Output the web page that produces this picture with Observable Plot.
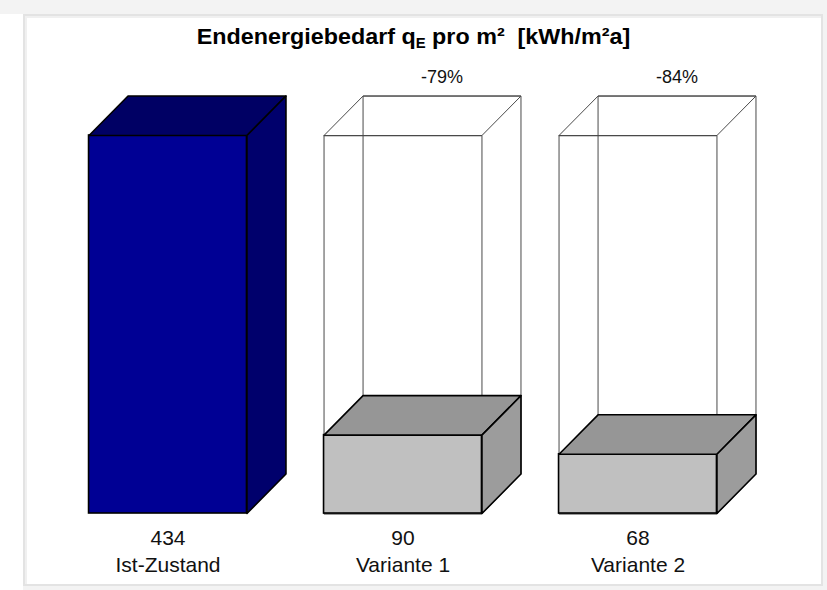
<!DOCTYPE html>
<html>
<head>
<meta charset="utf-8">
<script src="https://cdn.jsdelivr.net/npm/d3@7"></script>
<script src="https://cdn.jsdelivr.net/npm/@observablehq/plot@0.6"></script>
<style>
  body { margin: 0; background: #ffffff; font-family: "Liberation Sans", Arial, sans-serif; }
  #wrap { position: relative; width: 827px; height: 590px; overflow: hidden; background: #f3f3f3; }
  #panel { position: absolute; left: 23px; top: 14px; width: 796px; height: 568px; background: #ffffff;
           border: 2px solid #e3e3e3; box-shadow: inset 2px 2px 0 #f0f0f0; }
  #leftband { position: absolute; left: 0; top: 14px; width: 23px; height: 576px; background: #ffffff; }
  #title { position: absolute; left: 0; top: 24px; width: 827px; text-align: center; font-weight: bold;
           font-size: 22px; line-height: 26px; color: #000; transform: scaleX(1.06); transform-origin: 413px 0; }
  #title sub { font-size: 14px; vertical-align: -4px; line-height: 0; }
  #chart { position: absolute; left: 0; top: 0; }
</style>
</head>
<body>
<div id="wrap">
  <div id="leftband"></div>
  <div id="panel"></div>
  <div id="title">Endenergiebedarf q<sub>E</sub> pro m²&nbsp; [kWh/m²a]</div>
  <div id="chart"></div>
</div>
<script>
// ---- data ----
const categories = ["Ist-Zustand", "Variante 1", "Variante 2"];
const values = [434, 90, 68];
const percentLabels = ["", "-79%", "-84%"];
const valueLabels = ["434", "90", "68"];

// ---- geometry (in scale units) ----
const HW = 0.336;   // half width of front face (x units)
const DX = 0.166;   // depth offset (x units)
const DY = 45.3;    // depth offset (y units)
const refMax = values[0];

const frontCol = ["#000094", "#c0c0c0", "#c0c0c0"];
const topCol   = ["#000064", "#969696", "#969696"];
const sideCol  = ["#00006c", "#9c9c9c", "#9c9c9c"];

const idx = categories.map((_, i) => i);

// polygons for solid boxes
const solid = [];
idx.forEach(i => {
  const v = values[i], l = i - HW, r = i + HW;
  const top = [[l, v], [l + DX, v + DY], [r + DX, v + DY], [r, v]];
  const side = [[r, 0], [r, v], [r + DX, v + DY], [r + DX, DY]];
  top.forEach(([x, y]) => solid.push({face: "top" + i, x, y, fill: topCol[i]}));
  side.forEach(([x, y]) => solid.push({face: "side" + i, x, y, fill: sideCol[i]}));
});

// wireframe for reference height (only for variants)
const wire = [];
idx.filter(i => i > 0).forEach(i => {
  const v = refMax, l = i - HW, r = i + HW;
  const faces = {
    front: [[l, 0], [l, v], [r, v], [r, 0]],
    back: [[l + DX, DY], [l + DX, v + DY], [r + DX, v + DY], [r + DX, DY]],
    top: [[l, v], [l + DX, v + DY], [r + DX, v + DY], [r, v]],
    bottom: [[l, 0], [l + DX, DY], [r + DX, DY], [r, 0]]
  };
  Object.entries(faces).forEach(([k, pts]) =>
    pts.forEach(([x, y]) => wire.push({face: k + i, x, y})));
});

const chart = Plot.plot({
  width: 827,
  height: 590,
  marginLeft: 50,
  marginRight: 72,
  marginTop: 135,
  marginBottom: 77,
  x: {domain: [-0.5, 2.5], axis: null},
  y: {domain: [0, 434], axis: null},
  color: {type: "identity"},
  style: {background: "transparent", fontFamily: "'Liberation Sans', Arial, sans-serif", overflow: "visible", color: "#000"},
  marks: [
    Plot.line(wire, {x: "x", y: "y", z: "face", curve: "linear-closed", fill: "none", stroke: "#4a4a4a", strokeWidth: 1}),
    Plot.rect(idx, {x1: i => i - HW, x2: i => i + HW, y1: 0, y2: i => values[i], fill: i => frontCol[i], stroke: "#000", strokeWidth: 1.6}),
    Plot.line(solid, {x: "x", y: "y", z: "face", curve: "linear-closed", fill: "fill", stroke: "#000", strokeWidth: 1.6, strokeLinejoin: "round"}),
    Plot.text(idx, {x: i => i, y: 0, text: i => valueLabels[i], dy: 25, fontSize: 21, fill: "#111"}),
    Plot.text(idx, {x: i => i, y: 0, text: i => categories[i], dy: 52, fontSize: 21, fill: "#111"}),
    Plot.text(idx.filter(i => percentLabels[i]), {x: i => i + DX, y: refMax + DY, text: i => percentLabels[i], dy: -19, fontSize: 18, fill: "#111"})
  ]
});
document.getElementById("chart").appendChild(chart);
</script>
</body>
</html>
